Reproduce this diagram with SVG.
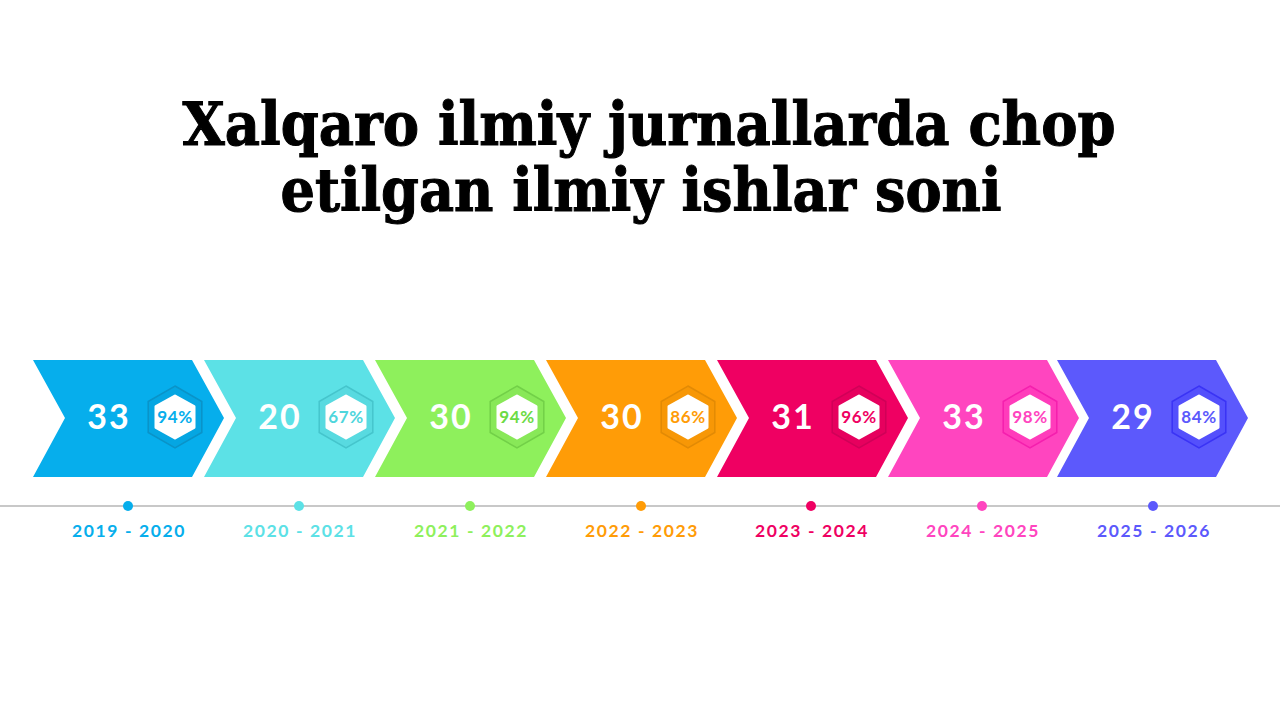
<svg xmlns="http://www.w3.org/2000/svg" width="1280" height="720" viewBox="0 0 1280 720">
<defs>
<style>
.title{font-family:"DejaVu Serif","Liberation Serif",serif;font-weight:bold;font-size:59px;fill:#000;stroke:#000;stroke-width:1.1px;text-anchor:middle}
.num{font-family:Lato,"Liberation Sans",sans-serif;font-weight:bold;font-size:34px;fill:#fff;text-anchor:middle;letter-spacing:2px}
.pct{font-family:Lato,"Liberation Sans",sans-serif;font-weight:bold;font-size:17px;text-anchor:middle;letter-spacing:0.6px}
.yr{font-family:Lato,"Liberation Sans",sans-serif;font-weight:bold;font-size:17.5px;text-anchor:middle;letter-spacing:1.6px}
.hexo{stroke-width:1.5}
.hexi{fill:#fff;stroke:#fff;stroke-width:3;stroke-linejoin:round}
</style>
<path id="chev" d="M0,360 L159,360 L191,418 L159,477 L0,477 L32,418 Z"/>
<polygon id="hexO" points="0,-31 26.8,-15.5 26.8,15.5 0,31 -26.8,15.5 -26.8,-15.5"/>
<polygon id="hexI" points="0,-21 19,-10.5 19,10.5 0,21 -19,10.5 -19,-10.5"/>
</defs>
<rect width="1280" height="720" fill="#fff"/>
<g id="title">
<text class="title" x="649" y="145" textLength="933" lengthAdjust="spacingAndGlyphs">Xalqaro ilmiy jurnallarda chop</text>
<text class="title" x="641" y="211" textLength="721" lengthAdjust="spacingAndGlyphs">etilgan ilmiy ishlar soni</text>
</g>
<g id="connectors">
<line x1="0" y1="506" x2="1280" y2="506" stroke="#c8c8c8" stroke-width="2"/>
</g>
<g id="node1">
<use href="#chev" x="33" fill="#06aeec"/>
<text class="num" x="109" y="429">33</text>
<use href="#hexO" class="hexo" x="175" y="417" fill="#05a6e2" stroke="#0a93c8"/>
<use href="#hexI" class="hexi" x="175" y="417"/>
<text class="pct" x="175" y="423" fill="#06aeec">94%</text>
<circle cx="128" cy="506" r="5" fill="#06aeec"/>
<text class="yr" x="129" y="537" fill="#06aeec">2019 - 2020</text>
</g>
<g id="node2">
<use href="#chev" x="204" fill="#5ce1e6"/>
<text class="num" x="280" y="429">20</text>
<use href="#hexO" class="hexo" x="346" y="417" fill="#58dae0" stroke="#45c5cc"/>
<use href="#hexI" class="hexi" x="346" y="417"/>
<text class="pct" x="346" y="423" fill="#4fd6dc">67%</text>
<circle cx="299" cy="506" r="5" fill="#5ce1e6"/>
<text class="yr" x="300" y="537" fill="#5ce1e6">2020 - 2021</text>
</g>
<g id="node3">
<use href="#chev" x="375" fill="#8ef05c"/>
<text class="num" x="451" y="429">30</text>
<use href="#hexO" class="hexo" x="517" y="417" fill="#88e858" stroke="#72d048"/>
<use href="#hexI" class="hexi" x="517" y="417"/>
<text class="pct" x="517" y="423" fill="#6cdb44">94%</text>
<circle cx="470" cy="506" r="5" fill="#8ef05c"/>
<text class="yr" x="471" y="537" fill="#8ef05c">2021 - 2022</text>
</g>
<g id="node4">
<use href="#chev" x="546" fill="#ff9c07"/>
<text class="num" x="622" y="429">30</text>
<use href="#hexO" class="hexo" x="688" y="417" fill="#f79706" stroke="#e28a05"/>
<use href="#hexI" class="hexi" x="688" y="417"/>
<text class="pct" x="688" y="423" fill="#ff9c07">86%</text>
<circle cx="641" cy="506" r="5" fill="#ff9c07"/>
<text class="yr" x="642" y="537" fill="#ff9c07">2022 - 2023</text>
</g>
<g id="node5">
<use href="#chev" x="717" fill="#ef0062"/>
<text class="num" x="793" y="429">31</text>
<use href="#hexO" class="hexo" x="859" y="417" fill="#e6005e" stroke="#d00058"/>
<use href="#hexI" class="hexi" x="859" y="417"/>
<text class="pct" x="859" y="423" fill="#ef0062">96%</text>
<circle cx="811" cy="506" r="5" fill="#ef0062"/>
<text class="yr" x="812" y="537" fill="#ef0062">2023 - 2024</text>
</g>
<g id="node6">
<use href="#chev" x="888" fill="#ff45bf"/>
<text class="num" x="964" y="429">33</text>
<use href="#hexO" class="hexo" x="1030" y="417" fill="#ff3cbb" stroke="#f51fae"/>
<use href="#hexI" class="hexi" x="1030" y="417"/>
<text class="pct" x="1030" y="423" fill="#ff45bf">98%</text>
<circle cx="982" cy="506" r="5" fill="#ff45bf"/>
<text class="yr" x="983" y="537" fill="#ff45bf">2024 - 2025</text>
</g>
<g id="node7">
<use href="#chev" x="1057" fill="#5c59fc"/>
<text class="num" x="1133" y="429">29</text>
<use href="#hexO" class="hexo" x="1199" y="417" fill="#5450fc" stroke="#3a33f5"/>
<use href="#hexI" class="hexi" x="1199" y="417"/>
<text class="pct" x="1199" y="423" fill="#5c59fc">84%</text>
<circle cx="1153" cy="506" r="5" fill="#5c59fc"/>
<text class="yr" x="1154" y="537" fill="#5c59fc">2025 - 2026</text>
</g>
</svg>
